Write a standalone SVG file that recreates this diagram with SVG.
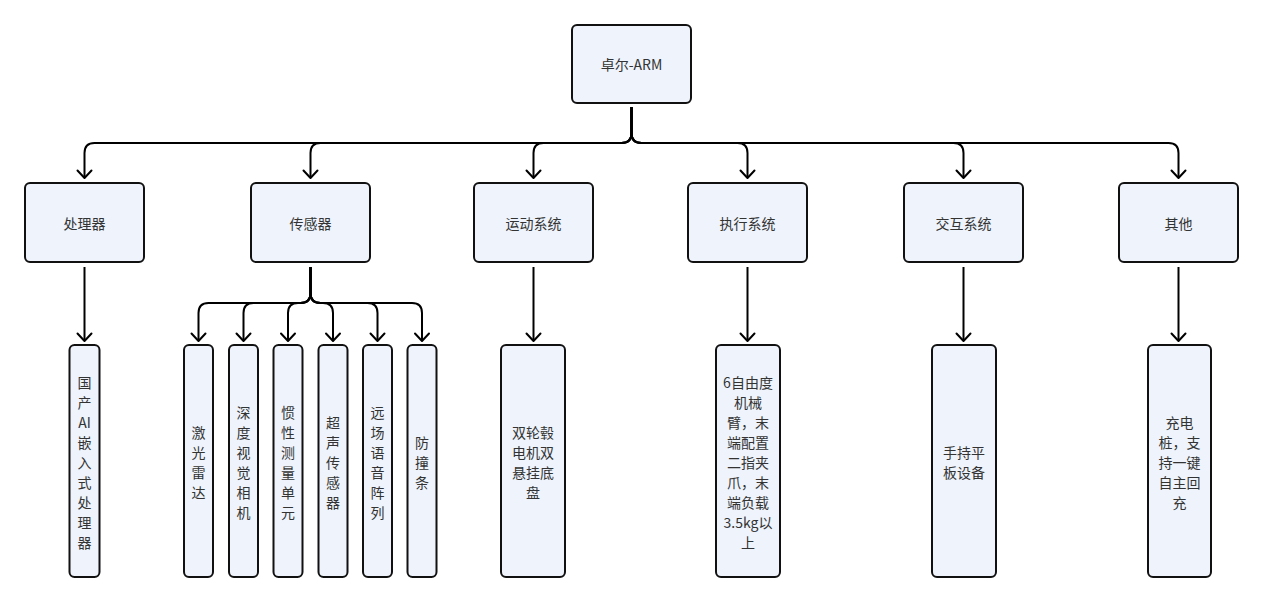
<svg xmlns="http://www.w3.org/2000/svg" width="1264" height="603" viewBox="0 0 1264 603">
<defs>
<marker id="arr" markerUnits="userSpaceOnUse" markerWidth="20" markerHeight="20" viewBox="-10 -10 20 20" refX="0" refY="0" orient="auto">
<path d="M -7.5 -7 L 0 0 L -7.5 7" fill="none" stroke="#000" stroke-width="2" stroke-linecap="round" stroke-linejoin="round"/>
</marker>
<style>
.box{fill:#eef3fc;stroke:#111;stroke-width:2}
.t{font-family:"Noto Sans CJK SC","Noto Sans",sans-serif;font-size:14px;fill:#333;text-anchor:middle;dominant-baseline:central}
.c{fill:none;stroke:#000;stroke-width:2;marker-end:url(#arr)}
</style>
</defs>
<rect width="1264" height="603" fill="#fff"/>
<g id="connectors">
<path class="c" d="M631.5 107 V133 Q631.5 143 621.5 143 H94.5 Q84.5 143 84.5 153 V178"/>
<path class="c" d="M631.5 107 V133 Q631.5 143 621.5 143 H320.5 Q310.5 143 310.5 153 V178"/>
<path class="c" d="M631.5 107 V133 Q631.5 143 621.5 143 H543.5 Q533.5 143 533.5 153 V178"/>
<path class="c" d="M631.5 107 V133 Q631.5 143 641.5 143 H737.5 Q747.5 143 747.5 153 V178"/>
<path class="c" d="M631.5 107 V133 Q631.5 143 641.5 143 H953.5 Q963.5 143 963.5 153 V178"/>
<path class="c" d="M631.5 107 V133 Q631.5 143 641.5 143 H1168.5 Q1178.5 143 1178.5 153 V178"/>
<path class="c" d="M84.5 267 V341"/>
<path class="c" d="M533.5 267 V341"/>
<path class="c" d="M747.5 267 V341"/>
<path class="c" d="M963.5 267 V341"/>
<path class="c" d="M1178.5 267 V341"/>
<path class="c" d="M310.5 267 V293 Q310.5 303 300.5 303 H208.5 Q198.5 303 198.5 313 V341"/>
<path class="c" d="M310.5 267 V293 Q310.5 303 300.5 303 H253.5 Q243.5 303 243.5 313 V341"/>
<path class="c" d="M310.5 267 V293 Q310.5 303 300.5 303 H298 Q288 303 288 313 V341"/>
<path class="c" d="M310.5 267 V293 Q310.5 303 320.5 303 H323 Q333 303 333 313 V341"/>
<path class="c" d="M310.5 267 V293 Q310.5 303 320.5 303 H367.5 Q377.5 303 377.5 313 V341"/>
<path class="c" d="M310.5 267 V293 Q310.5 303 320.5 303 H412 Q422 303 422 313 V341"/>
</g>
<g id="root"><rect class="box" x="572" y="25" width="119" height="78" rx="5"/><text class="t" x="631.5" y="64">卓尔-ARM</text></g>
<g id="n-processor"><rect class="box" x="25" y="183" width="119" height="79" rx="5"/><text class="t" x="84.5" y="223">处理器</text></g>
<g id="n-sensor"><rect class="box" x="251" y="183" width="119" height="79" rx="5"/><text class="t" x="310.5" y="223">传感器</text></g>
<g id="n-motion"><rect class="box" x="474" y="183" width="119" height="79" rx="5"/><text class="t" x="533.5" y="223">运动系统</text></g>
<g id="n-exec"><rect class="box" x="688" y="183" width="119" height="79" rx="5"/><text class="t" x="747.5" y="223">执行系统</text></g>
<g id="n-inter"><rect class="box" x="904" y="183" width="119" height="79" rx="5"/><text class="t" x="963.5" y="223">交互系统</text></g>
<g id="n-other"><rect class="box" x="1119" y="183" width="119" height="79" rx="5"/><text class="t" x="1178.5" y="223">其他</text></g>
<g id="l-processor"><rect class="box" x="69.5" y="345" width="30" height="232" rx="5"/>
<text class="t" x="84.5" y="382">国</text><text class="t" x="84.5" y="402">产</text><text class="t" x="84.5" y="422">AI</text><text class="t" x="84.5" y="442">嵌</text><text class="t" x="84.5" y="462">入</text><text class="t" x="84.5" y="482">式</text><text class="t" x="84.5" y="502">处</text><text class="t" x="84.5" y="522">理</text><text class="t" x="84.5" y="542">器</text></g>
<g id="l-lidar"><rect class="box" x="184" y="345" width="29" height="232" rx="5"/>
<text class="t" x="198.5" y="432">激</text><text class="t" x="198.5" y="452">光</text><text class="t" x="198.5" y="472">雷</text><text class="t" x="198.5" y="492">达</text></g>
<g id="l-depth"><rect class="box" x="229" y="345" width="29" height="232" rx="5"/>
<text class="t" x="243.5" y="412">深</text><text class="t" x="243.5" y="432">度</text><text class="t" x="243.5" y="452">视</text><text class="t" x="243.5" y="472">觉</text><text class="t" x="243.5" y="492">相</text><text class="t" x="243.5" y="512">机</text></g>
<g id="l-imu"><rect class="box" x="273.5" y="345" width="29" height="232" rx="5"/>
<text class="t" x="288" y="412">惯</text><text class="t" x="288" y="432">性</text><text class="t" x="288" y="452">测</text><text class="t" x="288" y="472">量</text><text class="t" x="288" y="492">单</text><text class="t" x="288" y="512">元</text></g>
<g id="l-ultra"><rect class="box" x="318.5" y="345" width="29" height="232" rx="5"/>
<text class="t" x="333" y="422">超</text><text class="t" x="333" y="442">声</text><text class="t" x="333" y="462">传</text><text class="t" x="333" y="482">感</text><text class="t" x="333" y="502">器</text></g>
<g id="l-mic"><rect class="box" x="363" y="345" width="29" height="232" rx="5"/>
<text class="t" x="377.5" y="412">远</text><text class="t" x="377.5" y="432">场</text><text class="t" x="377.5" y="452">语</text><text class="t" x="377.5" y="472">音</text><text class="t" x="377.5" y="492">阵</text><text class="t" x="377.5" y="512">列</text></g>
<g id="l-bumper"><rect class="box" x="407.5" y="345" width="29" height="232" rx="5"/>
<text class="t" x="422" y="442">防</text><text class="t" x="422" y="462">撞</text><text class="t" x="422" y="482">条</text></g>
<g id="l-motion"><rect class="box" x="501" y="345" width="64" height="232" rx="5"/>
<text class="t" x="533" y="432">双轮毂</text><text class="t" x="533" y="452">电机双</text><text class="t" x="533" y="472">悬挂底</text><text class="t" x="533" y="492">盘</text></g>
<g id="l-exec"><rect class="box" x="716" y="345" width="64" height="232" rx="5"/>
<text class="t" x="748" y="382">6自由度</text><text class="t" x="748" y="402">机械</text><text class="t" x="748" y="422">臂，末</text><text class="t" x="748" y="442">端配置</text><text class="t" x="748" y="462">二指夹</text><text class="t" x="748" y="482">爪，末</text><text class="t" x="748" y="502">端负载</text><text class="t" x="748" y="522">3.5kg以</text><text class="t" x="748" y="542">上</text></g>
<g id="l-inter"><rect class="box" x="932" y="345" width="64" height="232" rx="5"/>
<text class="t" x="964" y="452">手持平</text><text class="t" x="964" y="472">板设备</text></g>
<g id="l-other"><rect class="box" x="1148" y="345" width="63" height="232" rx="5"/>
<text class="t" x="1179.5" y="422">充电</text><text class="t" x="1179.5" y="442">桩，支</text><text class="t" x="1179.5" y="462">持一键</text><text class="t" x="1179.5" y="482">自主回</text><text class="t" x="1179.5" y="502">充</text></g>
</svg>
